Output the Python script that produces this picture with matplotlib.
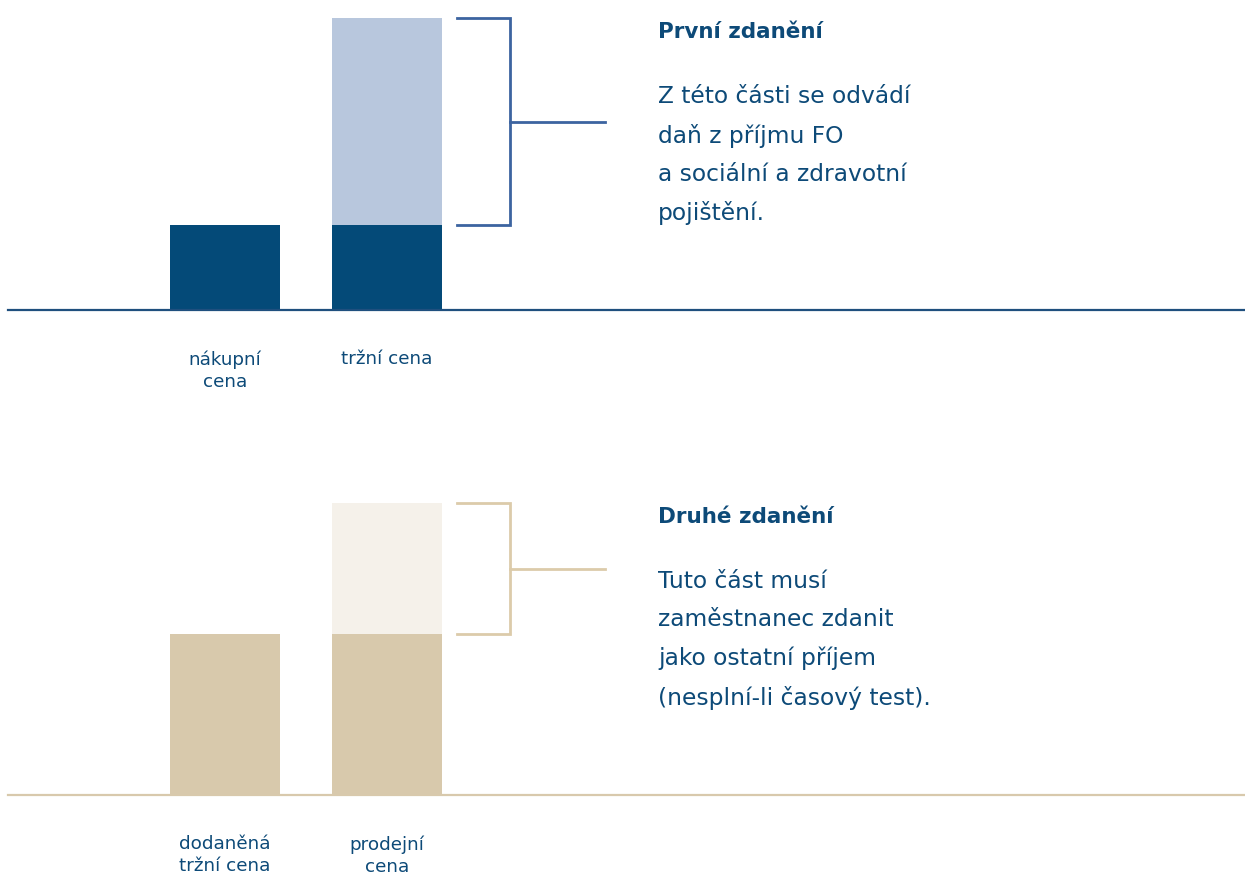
import matplotlib
matplotlib.use("Agg")
import matplotlib.pyplot as plt

# data (top = first taxation, bottom = second taxation), total scaled to 100
top_labels = ["nákupní\ncena", "tržní cena"]
top_base = [29, 29]
top_extra = [0, 71]

bottom_labels = ["dodaněná\ntržní cena", "prodejní\ncena"]
bottom_base = [55, 55]
bottom_extra = [0, 45]

top_title = "První zdanění"
top_text = "Z této části se odvádí\ndaň z příjmu FO\na sociální a zdravotní\npojištění."
bottom_title = "Druhé zdanění"
bottom_text = "Tuto část musí\nzaměstnanec zdanit\njako ostatní příjem\n(nesplní-li časový test)."

TEXT_C = "#0d4a78"
plt.rcParams['font.family'] = ['DejaVu Sans']

W, H = 1245, 876
fig = plt.figure(figsize=(W / 100, H / 100), dpi=100)

unit = 162.0          # px between bar centres
bar_w = 110 / unit


def panel(base_px, labels, base, extra, c_dark, c_light, c_line, c_brack, title, text):
    # base_px: baseline y from top of image; panel height 292 px
    ax = fig.add_axes([8 / W, (H - base_px) / H, (W - 8) / W, 292 / H])
    x = list(range(len(labels)))
    ax.bar(x, base, width=bar_w, color=c_dark, zorder=2)
    ax.bar(x, extra, bottom=base, width=bar_w, color=c_light, zorder=2)
    left = -(225 - 8) / unit
    ax.set_xlim(left, left + (W - 8) / unit)
    ax.set_ylim(0, 100)
    ax.axhline(0, color=c_line, lw=1.6, clip_on=False, zorder=3)
    for s in ax.spines.values():
        s.set_visible(False)
    ax.set_yticks([])
    ax.set_xticks(x, labels)
    ax.tick_params(axis='x', length=0, pad=29, labelsize=13.2, labelcolor=TEXT_C)
    for t in ax.get_xticklabels():
        t.set_linespacing(1.27)

    # bracket around the extra part of the last bar
    i = len(labels) - 1
    lo = base[i]
    hi = base[i] + extra[i]
    x0 = i + bar_w / 2 + 15 / unit
    x1 = x0 + 53 / unit
    x2 = x1 + 95 / unit
    ax.plot([x0, x1, x1, x0], [hi, hi, lo, lo], color=c_brack, lw=2, solid_joinstyle='miter', clip_on=False)
    ax.plot([x1, x2], [(lo + hi) / 2] * 2, color=c_brack, lw=2, clip_on=False)

    tx = (658 - 8) / unit + left
    ax.text(tx, 1.0 - 14 / 292, title, transform=ax.get_xaxis_transform(), ha='left', va='center',
            fontsize=15.5, fontweight='bold', color=TEXT_C)
    ax.text(tx, 1.0 - 67 / 292, text, transform=ax.get_xaxis_transform(), ha='left', va='top',
            fontsize=16.8, color=TEXT_C, linespacing=1.83)
    return ax


panel(310, top_labels, top_base, top_extra, "#044a78", "#b8c7dd", "#1f4f7e", "#3c64a0",
      top_title, top_text)
panel(795, bottom_labels, bottom_base, bottom_extra, "#d8c9ac", "#f5f1ea", "#d8c9ac", "#dccbaa",
      bottom_title, bottom_text)

fig.savefig("out.png", dpi=100)
